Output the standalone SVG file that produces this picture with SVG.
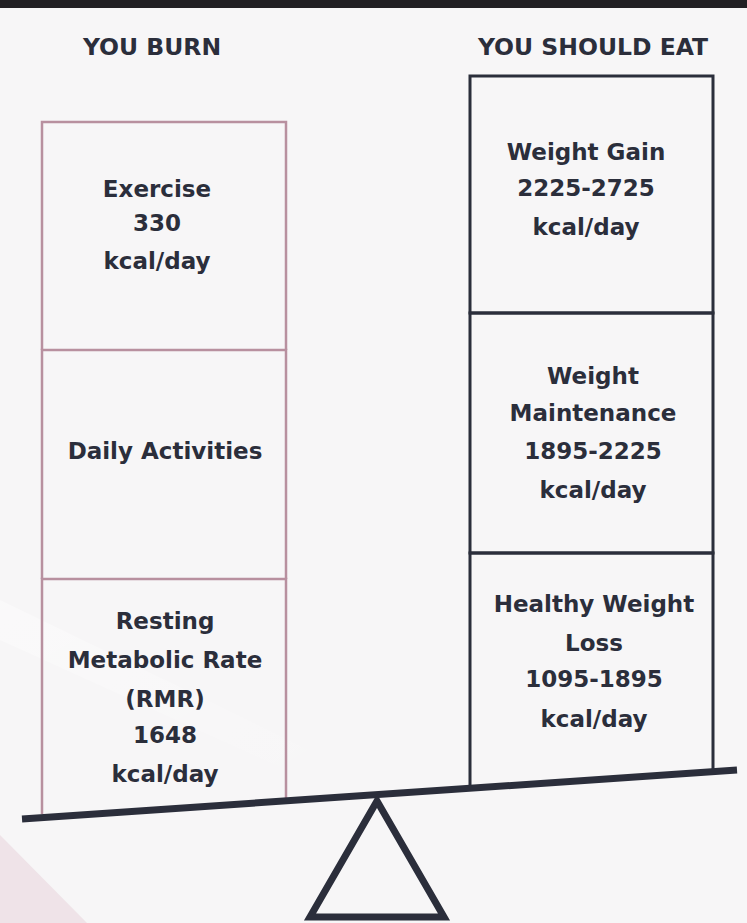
<svg xmlns="http://www.w3.org/2000/svg" width="747" height="923" viewBox="0 0 747 923">
<style>
.t{font-family:"DejaVu Sans","Liberation Sans",sans-serif;font-weight:bold;font-size:23px;fill:#2b2e3b;text-anchor:middle}
.h{font-family:"DejaVu Sans","Liberation Sans",sans-serif;font-weight:bold;font-size:23.5px;fill:#2b2e3b;text-anchor:middle}
.lb{fill:none;stroke:#b8909f;stroke-width:2.5}
.rb{fill:none;stroke:#2b2e3b;stroke-width:3}
</style>
<defs>
<linearGradient id="band" x1="0" y1="0" x2="1" y2="1">
<stop offset="0" stop-color="#ffffff" stop-opacity="0.8"/>
<stop offset="1" stop-color="#ffffff" stop-opacity="0"/>
</linearGradient>
</defs>
<rect x="0" y="0" width="747" height="923" fill="#f7f6f7"/>
<rect x="0" y="0" width="747" height="8" fill="#222024"/>
<polygon points="0,835 87,923 0,923" fill="#efe3e8"/>
<polygon points="0,600 0,640 330,790 330,760" fill="url(#band)" opacity="0.5"/>

<g id="header-burn"><text class="h" x="152" y="55">YOU BURN</text></g>
<g id="header-eat"><text class="h" x="593" y="55">YOU SHOULD EAT</text></g>

<g id="exercise">
<path class="lb" d="M42,350 V122 H286 V350"/>
<text class="t" x="157" y="197">Exercise</text>
<text class="t" x="157" y="231">330</text>
<text class="t" x="157" y="269">kcal/day</text>
</g>
<g id="daily-activities">
<path class="lb" d="M42,579 V350 H286 V579"/>
<text class="t" x="165" y="459">Daily Activities</text>
</g>
<g id="rmr">
<path class="lb" d="M42,814 V579 H286 V800"/>
<text class="t" x="165" y="629">Resting</text>
<text class="t" x="165" y="668">Metabolic Rate</text>
<text class="t" x="165" y="707">(RMR)</text>
<text class="t" x="165" y="743">1648</text>
<text class="t" x="165" y="782">kcal/day</text>
</g>

<g id="weight-gain">
<path class="rb" d="M470,313 V76 H713 V313 Z"/>
<text class="t" x="586" y="160">Weight Gain</text>
<text class="t" x="586" y="196">2225-2725</text>
<text class="t" x="586" y="235">kcal/day</text>
</g>
<g id="weight-maintenance">
<path class="rb" d="M470,553 V313 H713 V553 Z"/>
<text class="t" x="593" y="384">Weight</text>
<text class="t" x="593" y="421">Maintenance</text>
<text class="t" x="593" y="459">1895-2225</text>
<text class="t" x="593" y="498">kcal/day</text>
</g>
<g id="healthy-weight-loss">
<path class="rb" d="M470,788 V553 H713 V772"/>
<text class="t" x="594" y="612">Healthy Weight</text>
<text class="t" x="594" y="651">Loss</text>
<text class="t" x="594" y="687">1095-1895</text>
<text class="t" x="594" y="727">kcal/day</text>
</g>

<g id="connectors"></g>

<g id="scale">
<line x1="22" y1="819" x2="737" y2="770" stroke="#2b2e3b" stroke-width="7"/>
<polygon points="377,801 310,917 444,917" fill="none" stroke="#2b2e3b" stroke-width="7" stroke-linejoin="miter"/>
</g>
</svg>
